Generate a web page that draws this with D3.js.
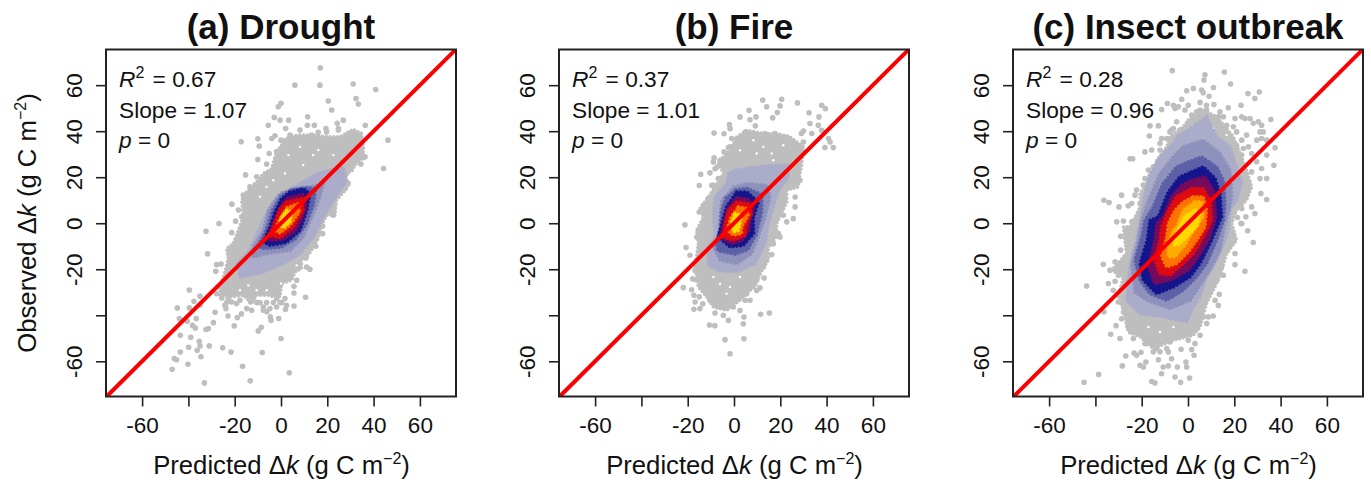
<!DOCTYPE html>
<html>
<head>
<meta charset="utf-8" />
<title>Predicted vs observed</title>
<script src="https://d3js.org/d3.v7.min.js"></script>
<style>
  body { margin: 0; background: white; }
  text { font-family: "Liberation Sans", Arial, sans-serif; fill: #111; }
</style>
</head>
<body>
<svg id="chart" width="1371" height="484"></svg>
<script>
var tickVals = [-60, -40, -20, 0, 20, 40, 60];
var unlabeled = [-40];
var lineEnds = [-76, 76];
var titles = ["(a) Drought", "(b) Fire", "(c) Insect outbreak"];
var r2Vals = ["0.67", "0.37", "0.28"];
var slopeVals = ["1.07", "1.01", "0.96"];
var pVals = ["0", "0", "0"];

// density shades, low to high
var shades = ["#bebebe", "#aaacc9", "#8e91bb", "#5c60a7", "#14148c", "#760a5c", "#dd0a12", "#ff7300", "#ffae00", "#ffd900"];

// loose points, [predicted, observed]
var droughtDots = [[17,67.6],[6,60],[16.8,60],[31.2,60.5],[40.9,58.1],[20.4,53.1],[32.4,54.2],[33.4,51.8],[21.9,49.2],[0,52.1],[-1.2,50.6],[-2.9,46],[-0.4,44.8],[3.3,44.8],[11.5,46.3],[11.4,42.6],[14.4,42.6],[-5.5,42.6],[2,41.2],[24.3,43.4],[26.9,44.8],[24.8,41.2],[19.4,41.2],[36.4,42.6],[16.1,39.5],[-10,36.7],[-2.6,38],[-4,36.8],[-17.2,35.4],[-9.4,33.5],[1,35.7],[46.2,36.1],[44.3,23.8],[-10,27.7],[-5.1,30.3],[-15.3,21],[-21.2,8.3],[35.5,28.6],[34.5,25.7],
[-26.8,-0.1],[-19.6,0.9],[-32.4,-3.5],[-21.3,-4.1],[-31.7,-13.3],[-27.8,-18],[-25.9,-17.7],[-28.2,-20.9],[-39.6,-29],[-35,-31.7],[-44.8,-36.8],[-39.6,-36.8],[-37.6,-33.9],[-35,-35.6],[-28.5,-38.7],[-43.9,-41.4],[-40.5,-42.6],[-36.6,-41.4],[-38.2,-44.4],[-37,-45.5],[-29.2,-43.2],[-32.4,-46.2],[-31.4,-45.8],[-20.2,-44.6],[-22.9,-40.3],[-18.9,-41],[-17.1,-39.4],[-23.8,-37.1],[-43.5,-48.7],[-39,-49.6],[-35.3,-51.3],[-39.9,-53.9],[-35,-53.3],[-36.2,-55.2],[-31,-53.3],[-25.2,-54.1],[-21.6,-56],[-43.5,-56],[-34.6,-58],[-46.1,-58.8],[-45.1,-59.3],[-40.2,-61.3],[-47,-63.5],[-16.6,-62.2],[-8.1,-56.2],[0,-50.1],[-9.8,-46.8],[-8.5,-45.2],[3.6,-65],[-13.3,-68.5],[-33.1,-69.4],[-1,-41.4],[-4.3,-42.2],[-4.6,-40.7],[10.6,-32.2],[5.6,-36],[5.6,-30.3],[5.6,-27.4],[1.9,-37.5],[2.4,-35.7],[6.8,-24.8],[12.5,-20],[11.1,-19],[10.8,-15.1],[15,-10],[18,-4.5],[18,-1.2],[-12.7,-37.8],[-7.6,-36.4],[-13.1,-34.2],[-19.2,-34.9],[-22.8,-32.7],[-24.2,-35.6],[-6.2,-38.5],[-0.4,-34.5],[-1.9,-32.7],
[-14.8,-37.1],[-7.6,-37.8],[-4.8,-37.1],[-3.3,-34.5],[0.3,-34.5],[1.7,-32.7],[-10.5,-34.5],[-21.3,-34.2],[-25.6,-32.5],[-23.5,-34.5],[-27.1,-27.7],[-27.8,-30.6],[-17.7,-33.5],[-9.1,-34.5],[-6.2,-34.5],[-1.9,-36.4],
[-6.2,25.7],[-1.9,31.1],[-10.5,20.2],[-8.1,18],[-13.4,15.8],[-16.3,12.2],[-18.4,5.7],[-17,2.8],[0,36.1],[3.9,38.3],[8.2,40.5],[13.2,38.3],[19.7,39.7],[24.8,40.5],[29.1,39],[34.1,33.2],[36.3,28.9],[28.3,21.6],[29,17.3],[27.6,15.1],[22.6,5.7],[22.6,3.5]];

var droughtBands = [
  [0, [[3.2,37.6],[8.2,38.3],[13.9,38.3],[19.7,37.6],[25.5,37.6],[31.2,40.8],[34.8,39],[35.6,33.2],[35.6,28.6],[32,25.3],[30.5,22.4],[26.9,21.6],[29,15.8],[24,10],[23.3,3.5],[19.7,3.5],[17.6,-0.9],[16.1,-6.7],[14,-10.3],[11.8,-13.9],[8.9,-16.1],[8.9,-19.7],[6,-21.2],[4.6,-24.8],[0.3,-26.2],[-0.4,-32],[-3.3,-32],[-5.5,-31.3],[-10.5,-31.3],[-12.7,-34.9],[-16.3,-31.3],[-21.3,-32],[-26.4,-31.3],[-25.6,-25.5],[-24.2,-21.2],[-22.8,-15.4],[-23.5,-11],[-20.6,-8.8],[-18.4,-3],[-16.3,2.8],[-17,10],[-14.8,13.7],[-10.5,18],[-7.6,21.6],[-4,23.8],[-2.6,28.9],[-0.4,33.2]]],
  [1, [[8.2,17.2],[15.4,21.6],[26.9,24.5],[28.4,18.7],[22.6,10],[18.3,2.7],[14,-6],[8.2,-13.2],[1,-17.6],[-9.1,-21.9],[-17.7,-23.4],[-19.2,-17.6],[-13.4,-11.8],[-10.5,-4.5],[-6.2,4.2],[-1.9,11.4]]],
  [2, [[5.3,15],[12.5,15.8],[18.3,17.2],[16.8,11.4],[14,4.2],[9.6,-6],[3.9,-11.8],[-6.2,-13.2],[-12,-14.7],[-12,-10.3],[-7.6,-3.1],[-5.5,5.6],[-0.4,12.9]]],
  [3, [[4.5,14.5],[11,15.5],[15,15],[14,8],[10.5,-1],[6,-7],[0,-10.5],[-8,-11],[-10,-10],[-6.5,-3],[-4,5],[-0.1,11.8]]],
  [4, [[3.9,13.6],[9.6,15],[12.5,12.9],[11.1,5.6],[8.2,-3.1],[2.4,-8.2],[-4.8,-9.6],[-7.6,-8.2],[-4.8,-1.6],[-2.6,4.9],[0.3,10.7]]],
  [5, [[3,11],[9.3,12.5],[11,8],[9,2],[6.5,-3],[1,-7],[-4.8,-7.5],[-6,-6.5],[-3.5,-0.5],[-1.3,5],[0.8,8.5]]],
  [6, [[2.4,9.2],[8.9,10.7],[9.6,5.6],[5.3,-1.6],[-0.4,-6.3],[-4.8,-5.3],[-2.6,0.5],[-0.4,6.3]]],
  [7, [[2.7,6.8],[7.5,8.5],[7.9,4.9],[3.9,-0.9],[-0.4,-4.2],[-2.6,-3.1],[-0.4,2]]],
  [9, [[2.4,5.6],[4.6,4.9],[3.9,0.5],[1,-1.9],[-0.7,-0.9],[0.3,2.7]]]
];

// small empty specks left between the grey dots
var droughtGaps = [[13.9,29.6],[16.1,31.8],[3.2,29.6],[8.2,33.2],[-3.3,18.7],[-6.2,15.8],[-9.1,11.5],[1.7,21.6],[9.6,25.3],[22.6,29.6],[-14.1,-27],[-6.2,-29.1],[0,-26.2],[-17.7,-29.1],[6.8,-18.3],[-10.5,-29.1]];

var fireDots = [[12.4,53.5],[14.1,50.6],[20.6,53.9],[19.9,51],[27.4,52.3],[18.7,48.1],[16.7,45.8],[6.5,49.1],[2.6,46.2],[9.5,46.2],[6.9,45],[9.2,42.3],[32.4,48],[37.9,51.3],[39.5,49.8],[36.7,46.2],[32.8,43.3],[36.4,42.6],[-2,42.9],[-8.6,39.2],[-4.3,38.9],[-1.7,41.1],[-1,36.8],[30,40.1],[37.9,40.4],[40.8,36.8],[39.3,32.9],[42.9,32.9],[41.5,35.3],[-4.3,31],[-2.4,32.9],[-8.6,28.4],[-7.2,24.5],[-14.4,21.3],[-10.4,21.9],[-15,16.4],[-8.9,16.5],[-6.8,19.4],[29.1,39],[33.6,39],[28.5,18.7],[26.4,7.1],[25.6,2],[21.3,3.5],[22.8,0.6],[20.6,6.3],[26.4,11.4],[-15,4.9],[-21.2,-0.7],[-11.1,10],[-13.2,0.6],[19.9,-6],[17,-8.9],[-20.7,-10.6],[-19,-13.9],[16.3,-13.6],[13.8,-15.4],[12.7,-19],[13,-23.8],[11.2,-28.1],[-21.9,-28],[-17.9,-24.1],[-16.8,-24.5],[-18.3,-28.9],[-17.3,-31.3],[-15,-32],[-16.8,-34.2],[-13.5,-35],[-17.3,-37.4],[-14.7,-37.1],[-8.2,-39],[-2.4,-42.2],[-4.6,-40],[4.3,-40.8],[4,-43.7],[11.5,-39.6],[15.3,-39],[-10.6,-44.2],[-8.3,-44.5],[-3.9,-50.6],[4.3,-50.2],[-1.7,-56.7],[6.9,-33.5],[9.8,-29.2],[4.8,-33.5],[2.6,-37.9],[-3.9,-36.4],
[5,39.7],[13.4,39],[17.7,39],[22.8,37.5],[27.1,33.9],[30,35.3],[-6,27.4],[-8.9,26.6],[-8.2,23.7],[-1.7,33.2],[1.2,36.1],[-9.6,16.5],[-11.1,10.7],[-13.2,7.8],[-15.4,-3.1],[-16.1,-6],[-14.7,-10.3],[-16.1,-16.1],[-16.8,-20.5],[-14.7,-24.8],[-11.8,-29.2],[-10.4,-33.5],[-6,-36.4],[-0.3,-36.4],[5.5,-30.6],[9.8,-24.8],[12.7,-16.1],[16.3,-8.9],[19.2,-4.5]];

var fireBands = [
  [0, [[1.2,37.5],[5.5,40.4],[12.7,39],[18.4,39],[24.2,37.5],[30,33.2],[29.2,25.2],[28.5,21.6],[27.8,15.8],[22.8,14.3],[22.8,9.2],[18.4,-0.2],[18.4,-6],[14.8,-10.3],[14.8,-16.1],[12,-20.5],[9.1,-27.7],[6.9,-29.2],[2.6,-33.5],[-3.2,-37.9],[-8.9,-36.4],[-11.8,-32],[-15.4,-27.7],[-16.8,-19],[-15.4,-8.9],[-16.1,-3.1],[-13.2,2.7],[-14.7,6.3],[-11.1,11.4],[-8.2,15.8],[-4.6,21.6],[-6.8,26.6],[-1.7,31.7]]],
  [1, [[0.4,23],[6.9,24.2],[17,25.2],[23.5,25.2],[23.5,20.1],[19.2,14.3],[17,7.1],[14.8,-0.2],[13.4,-8.9],[9.1,-17.6],[1.2,-21.2],[-6.8,-20.5],[-11.1,-18.3],[-11.1,-10.3],[-8.2,-6],[-8.9,4.2],[-8.2,11.4],[-3.2,17.2],[-2.4,21.6]]],
  [2, [[0,15.8],[5.5,17.2],[14.1,16.5],[15.6,11.4],[13.4,2.7],[10.5,-6],[7.6,-13.2],[1.2,-17.6],[-6,-16.1],[-8.9,-10.3],[-6.8,-6],[-6,2.7],[-5.3,10]]],
  [3, [[0.8,14.5],[5.5,15.2],[12,12.5],[12,5],[9.5,-5],[6,-11.5],[0.5,-13.5],[-7,-12],[-7.6,-8],[-5.8,-2],[-5.5,5],[-3.5,11]]],
  [4, [[1.2,13.6],[5.5,13.6],[10.5,9.2],[8.4,2.7],[8.4,-4.5],[4,-9.6],[-1.7,-10.3],[-6.8,-6],[-5.3,-0.2],[-3.2,7.1]]],
  [5, [[1.2,11],[6,10.5],[8.8,7],[7,2],[6.5,-3],[3.5,-7.5],[-1,-8.8],[-5.7,-6.2],[-4.6,-0.2],[-2.8,6.3]]],
  [6, [[1.2,9.2],[6.2,8.5],[7.6,4.2],[5.5,-0.2],[4.8,-5.2],[-0.3,-7.4],[-4.6,-6],[-3.9,-0.2],[-2.4,5.6]]],
  [7, [[1.9,7.1],[5.5,6.4],[6.2,3.5],[3.3,-1.6],[3.3,-4.5],[-0.3,-5.2],[-2.9,-3.1],[-1.7,2]]],
  [9, [[0.4,4.2],[3.3,3.5],[2.6,-0.2],[1.9,-3.1],[-0.3,-3.8],[-1,0.6]]]
];

var fireGaps = [[-8.9,-23.4],[-6,-26.3],[-1.7,-27.7],[-3.2,-30.6],[2.6,-23.4],[12.7,33.2],[9.8,30.3],[16.3,30.3],[21.3,33.9],[8.4,36.1],[2.6,31.7],[17,27.4]];

var insectDots = [[-6.8,66.3],[7.3,64.5],[6.9,62.2],[15.7,65.7],[18.4,60.5],[11,59],[-0.6,57.6],[2.3,58.6],[5.9,57.9],[6.6,56.7],[-2.7,53.9],[-8.9,52],[-11.4,49.4],[5.2,52.5],[11.2,51.6],[9.1,55.2],[17.4,50.2],[22.9,51.3],[25.9,56.4],[30.8,57],[28.9,54.2],[35.8,45.1],[31.8,42.6],[37.6,32.8],[37.1,25.2],[31.8,23.8],[31.1,19.4],[34,19.4],[31.5,12.9],[34,10.3],[27.5,7.1],[28.9,4.2],[25,2.8],[21.4,2.5],[23.2,-0.1],[-25,28],[-23.9,28],[-18.6,31],[-15.7,31.8],[-16.7,37.9],[-16.4,42.3],[-12.8,42.3],[-12.1,34.7],[-22.2,14.4],[-28.7,12.2],[-36.3,10],[-34.1,9],[-29.8,7.1],[-25.8,7.6],[-30.8,0.6],[-27.9,1],[-24.3,0.6],[-20.7,8.6],[-19.3,16.6],
[-6.3,51.3],[-4.2,50.6],[0.1,51.3],[1.6,47],[3.7,48.4],[8,51.3],[13.8,48.4],[15.3,46.3],[20.3,45.5],[23.2,46.3],[26.8,45.5],[30.4,44.1],[32.5,39.7],[34,36.1],[25.3,38.3],[21,39.7],[-6.3,41.2],[-7.8,39.7],[-3.5,40.5],[-11.4,36.8],[23.9,32.5],[27.5,30.3],[34,29.6],[23.2,29.6],[31.8,36.8],[29.7,26.7],
[22.9,-0.1],[25.8,-3.3],[28.2,-8.4],[20.3,-18],[24.6,-20.9],[-29.1,-5.7],[-29.1,-11.7],[-36.6,-17.8],[-43.8,-27.3],[-34.4,-26.2],[-31.5,-25.2],[-33.7,-20.4],[-31.5,-16.8],[-32.3,-29.1],[-36.3,-38.6],[-30.1,-34.2],[-31.1,-44.5],[-33.4,-48.3],[-28.7,-41.5],[-29.4,-50.1],[-26.9,-57.7],[-28.4,-62],[-23.3,-56.4],[-22.2,-57.4],[-20.3,-56.1],[-20.7,-61.7],[-18.2,-60.3],[-19.3,-62.5],[-38.6,-65.7],[-44.9,-69.1],[-15.7,-68.8],[-14.3,-69.4],[-3.2,-69.1],[0.7,-67.3],[-5.6,-66.8],[-4.6,-62.5],[-0.9,-60.3],[-0.6,-62.5],[-10.7,-62.5],[-11.4,-65.4],[-8.5,-62],[-12.8,-59.3],[-7.1,-58.9],[-3,-54.8],[2.6,-57.4],[1.6,-54.9],[0.1,-50.9],[3,-52.3],[5.2,-48.7],[8.1,-43.6],[8.8,-40.7],[10.9,-40.3],[13.1,-35.7],[11.7,-33.5],[13.5,-30.9],[8.8,-31.3],[15.3,-22.6],[20.3,-13.2],[-17.9,-52.3],[-14.3,-53.8],[-9.2,-54.5],[-7.8,-51.6],[-23.6,-50.1],[-25.8,-45.1],[3.7,-45.8],[3,-45.1],[-12.1,-55.9],[-15,-55.9],
[-5.6,49.9],[-1.3,49.2],[1.6,44.1],[5.2,49.2],[8,49.2],[13.1,46.3],[16.7,42.6],[19.6,41.9],[24.6,45.5],[28.2,43.4],[31.1,39.7],[29.7,36.1],[26.1,33.2],[23.2,36.1],[21,33.9],[-4.9,44.1],[-9.2,36.8],[-7.1,40.5],[-12.1,31.8],[-15,24.5],[-17.1,23.1],[-18.6,19.4],[27.5,22.3],[26.1,18],[24.6,13.6],[22.5,10],[23.2,6.4],[-24.3,8.6],[-22.9,12.2],
[-25,-8.8],[-24.3,-3],[-27.2,-14.6],[-30.1,-22.6],[-27.9,-38.6],[-25.8,-43.6],[-24.3,-47.3],[-17.9,-49.4],[-12.1,-48.7],[-6.3,-46.5],[-3.5,-48],[-18.6,-52.3],[-13.5,-54.5],[-8.5,-56],[2.3,-45.1],[4.5,-43.6],[6.6,-40.7],[3.7,-34.9],[8,-27.7],[12.4,-24.8],[14.5,-19],[17.4,-7.4],[19.6,-5.2],[16,-12.5],[18.9,-8.8]];

var insectBands = [
  [0, [[0.1,44.8],[6.6,49.2],[12.4,46.3],[19.6,37.6],[22.5,30.3],[25.3,23.1],[27.5,15.8],[25.3,10],[21,5.7],[18.9,-0.1],[21,-7.4],[16.7,-13.2],[13.8,-23.3],[10.9,-29.1],[8,-34.9],[5.2,-45.1],[2.3,-48.7],[-6.3,-50.9],[-15,-54.5],[-20.7,-49.4],[-25.8,-47.3],[-27.9,-37.8],[-30.1,-32],[-27.9,-23.3],[-33,-20.4],[-26.5,-13.2],[-27.2,-8.8],[-27.9,-1.6],[-25,-1.6],[-20.7,7.1],[-20.7,12.9],[-15,21.6],[-13.5,27.4],[-9.2,33.2],[-7.8,37.6],[-2,41.9]]],
  [1, [[0.1,40.5],[8,46.3],[12.4,37.6],[18.1,33.2],[21,24.5],[23.2,17.3],[21,10],[18.1,5.7],[17.4,-2.3],[16.7,-6],[12.4,-16.1],[8,-23.3],[5.2,-32],[1.6,-37.8],[-0.6,-42.9],[-10.7,-40.7],[-20.7,-39.3],[-26.5,-33.5],[-25.8,-23.3],[-24.3,-14.6],[-22.2,-7.4],[-20.7,1.3],[-19.3,8.6],[-17.1,20.2],[-12.1,28.9],[-6.3,34.7],[-4.2,38.3]]],
  [2, [[-2,33.2],[6.6,36.1],[13.8,30.3],[18.1,23.1],[18.9,12.9],[18.1,7.1],[16,0],[13.8,-11.7],[9.5,-20.4],[5.2,-27],[0.9,-33.5],[-7.8,-37.1],[-17.9,-33.5],[-22.9,-29.9],[-24.3,-17.5],[-21.5,-7.4],[-20,1.3],[-17.1,10],[-12.1,21.6],[-6.3,28.9]]],
  [3, [[0.1,26.7],[5.9,28.9],[12.4,24.5],[15.3,18.7],[16,8.6],[15.3,1.3],[12.4,-7.4],[8,-17.5],[3.7,-23.3],[-2,-29.1],[-9.2,-33.5],[-16.4,-30.6],[-20.7,-24.8],[-22.9,-16.1],[-20,-6],[-18.6,1.3],[-15,7.1],[-10.7,17.3],[-4.9,24.5]]],
  [4, [[1.6,22.3],[6.6,24.5],[11.7,19.5],[13.8,12.9],[14.5,2.8],[9.5,-8.8],[5.2,-17.5],[0.9,-23.3],[-6.3,-27.7],[-13.5,-30.6],[-19.3,-24.8],[-20.7,-17.5],[-17.6,-7.4],[-16.4,1.3],[-12.8,2.8],[-8.5,13.6],[-3.5,20.2]]],
  [5, [[1.6,18.7],[7.3,20.2],[10.9,14.4],[12.1,2.8],[8.8,-7.4],[4.5,-14.6],[0.1,-20.4],[-7.8,-24.8],[-14.3,-26.2],[-17.1,-19],[-14.3,-7.4],[-13.5,-0.1],[-10.7,2.8],[-7.1,11.5],[-2.7,16.5]]],
  [6, [[1.6,15.1],[6.6,15.1],[9.5,10],[10.2,1.3],[6.6,-6],[2.3,-13.2],[-2,-17.5],[-7.8,-22.6],[-12.1,-21.9],[-14.3,-16.1],[-12.1,-7.4],[-11.4,-1.6],[-8.5,5.7],[-4.9,11.5],[-1.3,13.7]]],
  [7, [[2.3,11.5],[6.6,11.5],[8,5.7],[7.3,-1.6],[3.7,-7.4],[0.1,-12.5],[-4.9,-17.5],[-9.2,-19],[-11.4,-14.6],[-9.2,-6],[-8.5,-0.1],[-5.6,5.7],[-2,9.3]]],
  [8, [[3,9.3],[5.9,9.3],[6.6,2.8],[2.3,-3],[-1.3,-9.6],[-5.6,-14.6],[-8.5,-14.6],[-8.5,-8.8],[-6.3,-3],[-4.9,-1.6],[-2,5.7]]],
  [9, [[3.3,5.7],[5.2,5],[4,-1.2],[0,-5.5],[-3.5,-9],[-6,-9.5],[-6,-6],[-3.5,-1],[-1,3.5]]]
];

var insectGaps = [[-10.7,-40],[-4.9,-39.3],[-17.1,-45.1],[-6.3,-45.1],[-12.1,-47.3],[2.3,41.9],[10.9,41.2],[16.7,38.3]];

var allDots = [droughtDots, fireDots, insectDots];
var allBands = [droughtBands, fireBands, insectBands];
var allGaps = [droughtGaps, fireGaps, insectGaps];

var panelLeft = [106, 559, 1013];
var plotW = 350, plotH = 347, plotTop = 49.5;

var svg = d3.select("#chart");

function axisLabel(sel, first) {
  sel.append("tspan").text(first + " ");
  sel.append("tspan").text("\u0394");
  sel.append("tspan").style("font-style", "italic").text("k");
  sel.append("tspan").text("  (g C m");
  sel.append("tspan").attr("dy", -10).style("font-size", "16px").text("\u22122");
  sel.append("tspan").attr("dy", 10).text(")");
}

titles.forEach(function (title, i) {
  var g = svg.append("g").attr("transform", "translate(" + panelLeft[i] + "," + plotTop + ")");
  var x = d3.scaleLinear().domain([-75.6, 75.6]).range([0, plotW]);
  var y = d3.scaleLinear().domain([-75.3, 75.5]).range([plotH, 0]);

  g.append("clipPath").attr("id", "clip" + i).append("rect").attr("width", plotW).attr("height", plotH);
  var plot = g.append("g").attr("clip-path", "url(#clip" + i + ")");

  plot.selectAll("circle.loose")
    .data(allDots[i])
    .enter().append("circle")
    .attr("class", "loose")
    .attr("cx", function (d) { return x(d[0]) })
    .attr("cy", function (d) { return y(d[1]) })
    .attr("r", 2.8)
    .style("fill", shades[0]);

  var outline = d3.line().x(function (d) { return x(d[0]) }).y(function (d) { return y(d[1]) })
    .curve(d3.curveLinearClosed);

  allBands[i].forEach(function (band) {
    var col = shades[band[0]];
    plot.append("path")
      .attr("d", outline(band[1]))
      .style("fill", col);
    // dotted round edge so each band ends in overlapping dots like the scatter does
    plot.append("path")
      .attr("d", outline(band[1]))
      .style("fill", "none")
      .style("stroke", col)
      .style("stroke-width", 3.6)
      .style("stroke-linecap", "round")
      .style("stroke-dasharray", "0 3.8");

    if (band[0] === 0) {
      plot.selectAll(null)
        .data(allGaps[i])
        .enter().append("circle")
        .attr("cx", function (d) { return x(d[0]) })
        .attr("cy", function (d) { return y(d[1]) })
        .attr("r", 1.2)
        .style("fill", "white");
    }
  });

  plot.append("line")
    .attr("x1", x(lineEnds[0])).attr("y1", y(lineEnds[0]))
    .attr("x2", x(lineEnds[1])).attr("y2", y(lineEnds[1]))
    .style("stroke", "#fa0000")
    .style("stroke-width", 4);

  var fmt = function (d) { return unlabeled.indexOf(d) >= 0 ? "" : d };
  var xAxis = g.append("g").attr("transform", "translate(0," + plotH + ")")
    .call(d3.axisBottom(x).tickValues(tickVals).tickFormat(fmt).tickSize(10).tickPadding(11));
  var yAxis = g.append("g")
    .call(d3.axisLeft(y).tickValues(tickVals).tickFormat(fmt).tickSize(10).tickPadding(8));
  [xAxis, yAxis].forEach(function (a) {
    a.select(".domain").remove();
    a.selectAll("line").style("stroke", "#222").style("stroke-width", 1.6);
    a.selectAll("text").style("font-size", "22.5px").style("font-family", "'Liberation Sans', Arial, sans-serif").style("fill", "#111");
  });
  yAxis.selectAll("text")
    .attr("dy", 0)
    .attr("x", 0).attr("y", 0)
    .attr("text-anchor", "middle")
    .attr("transform", "translate(-24,0) rotate(-90)");

  g.append("rect").attr("width", plotW).attr("height", plotH)
    .style("fill", "none").style("stroke", "#222").style("stroke-width", 2);

  g.append("text").attr("x", plotW / 2).attr("y", -11).attr("text-anchor", "middle")
    .style("font-size", "35px").style("font-weight", "bold").text(title);

  var r2 = g.append("text").attr("x", 13).attr("y", 37).style("font-size", "22.7px");
  r2.append("tspan").style("font-style", "italic").text("R");
  r2.append("tspan").attr("dy", -9).style("font-size", "16px").text("2");
  r2.append("tspan").attr("dy", 9).attr("dx", 2).text(" = " + r2Vals[i]);
  g.append("text").attr("x", 13).attr("y", 68).style("font-size", "22.7px").text("Slope = " + slopeVals[i]);
  var pt = g.append("text").attr("x", 13).attr("y", 98).style("font-size", "22.7px");
  pt.append("tspan").style("font-style", "italic").text("p");
  pt.append("tspan").text(" = " + pVals[i]);

  var xl = g.append("text").attr("x", plotW / 2 + 0.5).attr("y", plotH + 77).attr("text-anchor", "middle").style("font-size", "25.7px");
  axisLabel(xl, "Predicted");

  if (i === 0) {
    var yl = g.append("text").attr("text-anchor", "middle").style("font-size", "25.7px")
      .attr("transform", "translate(-70," + (plotH / 2) + ") rotate(-90)");
    axisLabel(yl, "Observed");
  }
});
</script>
</body>
</html>
